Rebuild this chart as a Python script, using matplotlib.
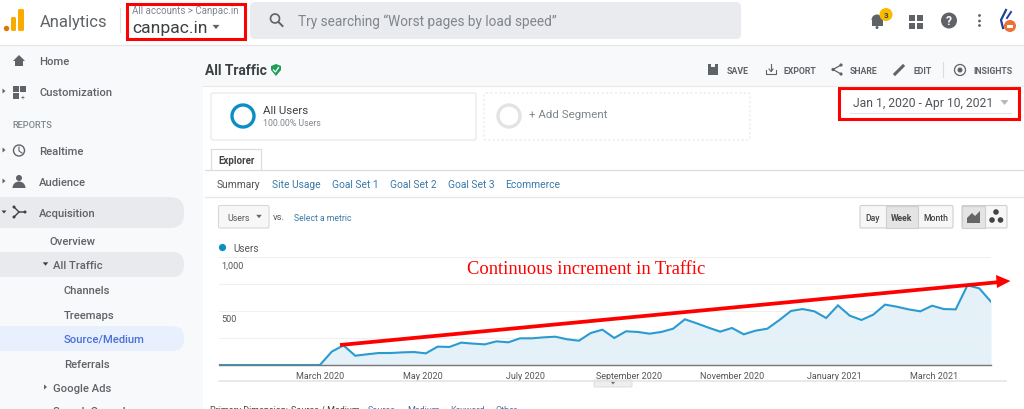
import matplotlib
matplotlib.use("Agg")
import matplotlib.pyplot as plt
import matplotlib.dates as mdates
from matplotlib.patches import Rectangle, FancyBboxPatch, Circle, Polygon, Wedge
import pandas as pd

plt.rcParams['font.family'] = ['Roboto', 'DejaVu Sans']

# weekly users: Jan 1 2020, then Sundays up to Apr 4 2021
week_dates = [pd.Timestamp('2020-01-01')] + list(pd.date_range('2020-01-05', '2021-04-04', freq='7D'))
users = [0, 0, 0, 0, 0, 0, 0, 0, 0, 0,
         123, 182, 86, 99, 111, 111, 117, 120, 108, 170,
         167, 207, 198, 191, 219, 210, 247, 247, 256, 262,
         238, 225, 296, 327, 250, 312, 306, 290, 306, 336,
         423, 386, 346, 309, 343, 284, 318, 336, 414, 500,
         518, 497, 435, 552, 457, 417, 466, 559, 540, 515,
         497, 549, 518, 515, 738, 710, 586]
tick_dates = ['2020-03-01', '2020-05-01', '2020-07-01', '2020-09-01', '2020-11-01', '2021-01-01', '2021-03-01']
tick_labels = ['March 2020', 'May 2020', 'July 2020', 'September 2020', 'November 2020', 'January 2021', 'March 2021']
y_labels = {1000: '1,000', 500: '500'}

nav_items = [('Home', 39, 61), ('Customization', 39, 92), ('Realtime', 39, 151), ('Audience', 39, 182),
             ('Acquisition', 39, 213), ('Overview', 49, 241), ('All Traffic', 53, 265), ('Channels', 64, 290),
             ('Treemaps', 64, 315), ('Referrals', 64, 364), ('Google Ads', 53, 388), ('Search Console', 53, 411)]
sub_tabs = [('Site Usage', 272), ('Goal Set 1', 332), ('Goal Set 2', 390), ('Goal Set 3', 448), ('Ecommerce', 505)]
toolbar = [('SAVE', 727), ('EXPORT', 783), ('SHARE', 850), ('EDIT', 913), ('INSIGHTS', 973)]
dim_links = [('Source', 368), ('Medium', 407), ('Keyword', 450), ('Other', 495)]

W, H = 1024, 410
BLUE = '#058dc7'
GREY = '#5f6368'
LINK = '#3a78a8'
RED = '#ff0000'

fig = plt.figure(figsize=(W / 100, H / 100), dpi=100, facecolor='white')

# chart in pixel position
ax = fig.add_axes([219 / W, 1 - 366 / H, (991 - 219) / W, (366 - 258) / H], zorder=1)
ax.patch.set_alpha(0)
ax.fill_between(week_dates, users, 0, color='#e4f1f8', lw=0, zorder=1)
ax.plot(week_dates, users, color='#2a9bd0', lw=1.5, zorder=3, solid_joinstyle='miter')
ax.set_xlim(week_dates[0], week_dates[-1])
ax.set_ylim(0, 1000)
ax.set_yticks([0, 250, 500, 750, 1000])
ax.set_yticklabels([])
ax.grid(axis='y', color='#f0f0f0', lw=0.8, zorder=0)
ax.set_xticks([mdates.date2num(pd.Timestamp(d)) for d in tick_dates])
ax.set_xticklabels(tick_labels, fontsize=6.5, color='#555555')
ax.tick_params(length=0, pad=4.5)
ax.tick_params(axis='y', length=0)
for s in ['top', 'left', 'right']:
    ax.spines[s].set_visible(False)
ax.spines['bottom'].set_color('#777777')
ax.spines['bottom'].set_linewidth(1.0)
for v, lab in y_labels.items():
    ax.annotate(lab, (0, v), xycoords=('axes fraction', 'data'), xytext=(1.5, -2.5), textcoords='offset points',
                fontsize=6.6, color='#555555', va='top', ha='left')

# everything else in pixel coordinates, on top of the chart
ui = fig.add_axes([0, 0, 1, 1], zorder=2)
ui.set_xlim(0, W)
ui.set_ylim(H, 0)
ui.axis('off')


def t(x, y, s, px=11, color=GREY, weight='normal', ha='left', **kw):
    ui.text(x, y + 0.8, s, fontsize=px * 0.72, color=color, fontweight=weight, ha=ha, va='center', **kw)


def box(x0, y0, x1, y1, fc='none', ec='none', lw=1, **kw):
    ui.add_patch(Rectangle((x0, y0), x1 - x0, y1 - y0, fc=fc, ec=ec, lw=lw, **kw))


def rbox(x0, y0, x1, y1, r, fc='none', ec='none', lw=1, **kw):
    ui.add_patch(FancyBboxPatch((x0 + r, y0 + r), x1 - x0 - 2 * r, y1 - y0 - 2 * r,
                                boxstyle='round,pad=%f,rounding_size=%f' % (r, r), fc=fc, ec=ec, lw=lw, **kw))


def tri(x, y, size=3, color=GREY, right=False):
    if right:
        pts = [(x - size * 0.6, y - size), (x - size * 0.6, y + size), (x + size * 0.6, y)]
    else:
        pts = [(x - size, y - size * 0.6), (x + size, y - size * 0.6), (x, y + size * 0.6)]
    ui.add_patch(Polygon(pts, fc=color, ec='none'))


# backgrounds
box(0, 46, 203, H, fc='#f8f9fa')
box(203, 46, W, 87, fc='#f8f9fa')
ui.plot([0, W], [45.5, 45.5], color='#e6e6e6', lw=1)
ui.plot([203, W], [87, 87], color='#e8e8e8', lw=0.8)

# header
ui.add_patch(Circle((6.5, 29.5), 2.7, fc='#e37400', ec='none'))
rbox(11, 18, 16, 32, 1.5, fc='#f9ab00')
rbox(18, 10, 24, 32, 1.5, fc='#f9ab00')
t(40, 21.5, 'Analytics', 16.6)
ui.plot([119.5, 119.5], [9, 33], color='#e0e0e0', lw=0.8)
t(132, 9.8, 'All accounts > Canpac.in', 9.8, color='#80868b')
t(132, 27.5, 'canpac.in', 17.5, color='#3c4043')
tri(216, 28, 3.5)
box(127, 4.5, 245, 40, ec=RED, lw=2.2)
rbox(250, 3, 741, 40, 5, fc='#eaebee')
ui.add_patch(Circle((275, 19.5), 4.5, fc='none', ec=GREY, lw=1.2))
ui.plot([278.5, 282.5], [23, 27], color=GREY, lw=1.4)
t(298, 20.5, 'Try searching “Worst pages by load speed”', 13.6, color='#80868b')

ui.add_patch(Wedge((877, 21), 5.5, 180, 360, fc='#5f6368', ec='none', width=5.5))
box(871.5, 20, 882.5, 27, fc=GREY)
ui.add_patch(Circle((877, 28.5), 1.5, fc=GREY, ec='none'))
ui.add_patch(Circle((886, 15.5), 6.5, fc='#f9bb00', ec='none'))
t(886, 15, '3', 8, color='#3c4043', ha='center', weight='bold')
for bx in (909, 917):
    for by in (16, 24):
        box(bx, by, bx + 5.5, by + 5.5, fc=GREY)
ui.add_patch(Circle((949, 21.5), 8, fc=GREY, ec='none'))
t(949, 21, '?', 12, color='white', ha='center', weight='bold')
for by in (16.5, 22, 26.5):
    ui.add_patch(Circle((979.5, by), 1.4, fc=GREY, ec='none'))
ui.plot([1006, 1001, 1003], [11, 21, 29], color='#1f3f99', lw=1.6)
ui.plot([1011, 1007], [13, 19], color='#1f3f99', lw=1.4)
ui.add_patch(Circle((1010, 27), 6, fc='#ee7035', ec='none'))
box(1007, 25.5, 1013, 28.5, fc='white')

# sidebar
rbox(-20, 198, 184, 229, 14, fc='#e8eaed')
rbox(-20, 253, 184, 278, 12, fc='#e8eaed')
rbox(-20, 327, 184, 352, 12, fc='#e8f0fe')
for lab, x, y in nav_items:
    t(x, y, lab, 11.2, color=GREY, weight='medium')
t(64, 339, 'Source/Medium', 11.2, color='#4a6fd8', weight='medium')
t(12, 124.5, 'REPORTS', 9.3, color='#80868b', weight='medium')
ui.add_patch(Polygon([(13, 62), (19, 56), (25, 62), (23, 62), (23, 67), (15, 67), (15, 62)], fc=GREY, ec='none'))
for bx, by, bw in [(13, 87, 5.5), (20, 87, 5.5), (13, 94, 5.5)]:
    box(bx, by, bx + bw, by + bw, fc=GREY)
t(23, 97, '+', 7, color=GREY, ha='center')
ui.add_patch(Circle((19, 151.5), 5.5, fc='none', ec=GREY, lw=1))
ui.plot([19, 19, 22], [148, 152, 154], color=GREY, lw=0.8)
ui.add_patch(Circle((19, 179), 3, fc=GREY, ec='none'))
ui.add_patch(Wedge((19, 189), 6.5, 180, 360, fc=GREY, ec='none'))
ui.plot([14, 19, 25], [208, 213, 213], color='#3c4043', lw=1)
ui.plot([14, 19], [218, 213], color='#3c4043', lw=1)
for cx, cy in [(14, 208), (14, 218), (25, 213)]:
    ui.add_patch(Circle((cx, cy), 1.5, fc='#3c4043', ec='none'))
for y in (92, 151, 182):
    tri(4, y, 2.5, right=True)
tri(4, 213, 2.5, color='#3c4043')
tri(45.5, 265, 2.8, color='#3c4043')
tri(45.5, 388, 2.5, right=True)

# report header and toolbar
t(205, 70, 'All Traffic', 13.8, color='#3c4043', weight='bold')
ui.add_patch(Polygon([(271, 67), (276, 65), (281, 67), (281, 71), (276, 77), (271, 71)], fc='#1e9e56', ec='none'))
ui.plot([273.5, 275.5, 278.5], [71, 73, 68.5], color='white', lw=0.9)
for lab, x in toolbar:
    t(x, 70.5, lab, 8.8, color=GREY, weight='bold')
box(708, 65, 718, 75.5, fc=GREY)
box(711, 65, 715, 68, fc='#f8f9fa')
ui.plot([766, 766, 776, 776], [71, 75, 75, 71], color=GREY, lw=0.8)
ui.plot([771, 771], [65, 72], color=GREY, lw=0.8)
ui.plot([769, 771, 773], [70, 72.5, 70], color=GREY, lw=0.8)
ui.plot([841, 833, 841], [66, 70.5, 75], color=GREY, lw=0.9)
for cx, cy in [(841, 66), (833, 70.5), (841, 75)]:
    ui.add_patch(Circle((cx, cy), 1.6, fc=GREY, ec='none'))
ui.plot([895, 903], [75, 67], color=GREY, lw=2.2)
ui.plot([942.5, 942.5], [63, 78], color='#dcdcdc', lw=0.8)
ui.add_patch(Circle((960, 71), 5.5, fc='none', ec=GREY, lw=0.9))
ui.add_patch(Circle((960, 71), 2.5, fc=GREY, ec='none'))

# date picker
t(853, 103, 'Jan 1, 2020 - Apr 10, 2021', 12.1, color='#50555a')
tri(1004.5, 103.5, 4, color='#b5b5b5')
ui.plot([850, 1011], [113.5, 113.5], color='#e4e4e4', lw=0.8)
box(839, 88.5, 1019, 120, ec=RED, lw=2.2)

# segments
rbox(211, 94, 476, 141, 2, fc='white', ec='#e6e6e6', lw=0.8)
ui.add_patch(Circle((243, 117), 11, fc='none', ec='#0b8ec5', lw=2.4))
t(263, 110.5, 'All Users', 11.5, color='#3c4043')
t(263, 122.5, '100.00% Users', 8.8, color='#80868b')
rbox(484, 94, 750, 141, 2, fc='white', ec='#e6e6e6', lw=0.8, ls=(0, (2, 2)))
ui.add_patch(Circle((509, 117), 11, fc='none', ec='#e3e3e3', lw=2.4))
t(529, 114, '+ Add Segment', 11.5, color='#80868b')

# explorer tabs
ui.plot([205, W], [171, 171], color='#dddddd', lw=0.9)
box(211, 149, 261, 171.5, fc='white', ec='none')
ui.plot([211, 211, 261, 261], [171, 149.5, 149.5, 171], color='#dddddd', lw=0.9)
t(218, 160, 'Explorer', 9.8, color='#444444', weight='bold')
t(217, 184, 'Summary', 10.2, color='#555555')
for lab, x in sub_tabs:
    t(x, 184, lab, 10.2, color=LINK)
ui.plot([205, W], [198, 198], color='#e8e8e8', lw=1)

# metric selector row
rbox(218.5, 206.5, 269, 229, 1.5, fc='#f7f7f7', ec='#d8d8d8', lw=0.8)
t(227, 217.5, 'Users', 8.8, color='#555555')
tri(259, 217.5, 2.8, color='#666666')
t(273, 216.5, 'vs.', 9.5, color='#555555')
t(294, 217.5, 'Select a metric', 8.6, color=LINK)
rbox(860, 206.5, 953, 229, 1.5, fc='#f7f7f7', ec='#cfcfcf', lw=0.8)
box(886, 207, 918, 228.5, fc='#e4e4e4', ec='#cfcfcf', lw=0.8)
t(873, 217.5, 'Day', 8.6, color='#444444', ha='center', weight='medium')
t(902, 217.5, 'Week', 8.6, color='#444444', ha='center', weight='bold')
t(936, 217.5, 'Month', 8.6, color='#444444', ha='center', weight='medium')
rbox(962, 206.5, 1007, 229, 1.5, fc='#f7f7f7', ec='#cfcfcf', lw=0.8)
box(962, 207, 985, 228.5, fc='#e4e4e4', ec='#cfcfcf', lw=0.8)
ui.add_patch(Polygon([(967, 224), (967, 219), (972, 214), (975, 217), (980, 212), (980, 224)], fc='#666666', ec='none'))
for cx, cy, r in [(996, 213, 2.8), (992, 221, 2.8), (1000.5, 221, 2.8)]:
    ui.add_patch(Circle((cx, cy), r, fc='#444444', ec='none'))

# legend
ui.add_patch(Circle((222.5, 248.5), 3.6, fc='#0b8ec5', ec='none'))
t(233, 248.5, 'Users', 10, color='#555555')

# slider below the chart
ui.plot([219, 1006], [381.5, 381.5], color='#e3e3e3', lw=1.1)
rbox(594, 381, 632, 388, 1, fc='#eeeeee', ec='#dddddd', lw=0.7)
tri(613, 384, 2.5, color='#777777')

# cut-off dimension line, same as the screenshot
t(210, 409.5, 'Primary Dimension:', 9, color='#444444')
t(291, 409.5, 'Source / Medium', 9, color='#444444')
for lab, x in dim_links:
    t(x, 409.5, lab, 9, color=LINK)

# annotation
t(467, 269, 'Continuous increment in Traffic', 18.55, color=RED, family='Liberation Serif')
ui.plot([340, 998], [346, 283.2], color=RED, lw=2.7, solid_capstyle='butt')
ui.add_patch(Polygon([(996, 276), (1010.5, 282), (997, 289)], fc=RED, ec='none'))

fig.savefig('out.png', dpi=100)
